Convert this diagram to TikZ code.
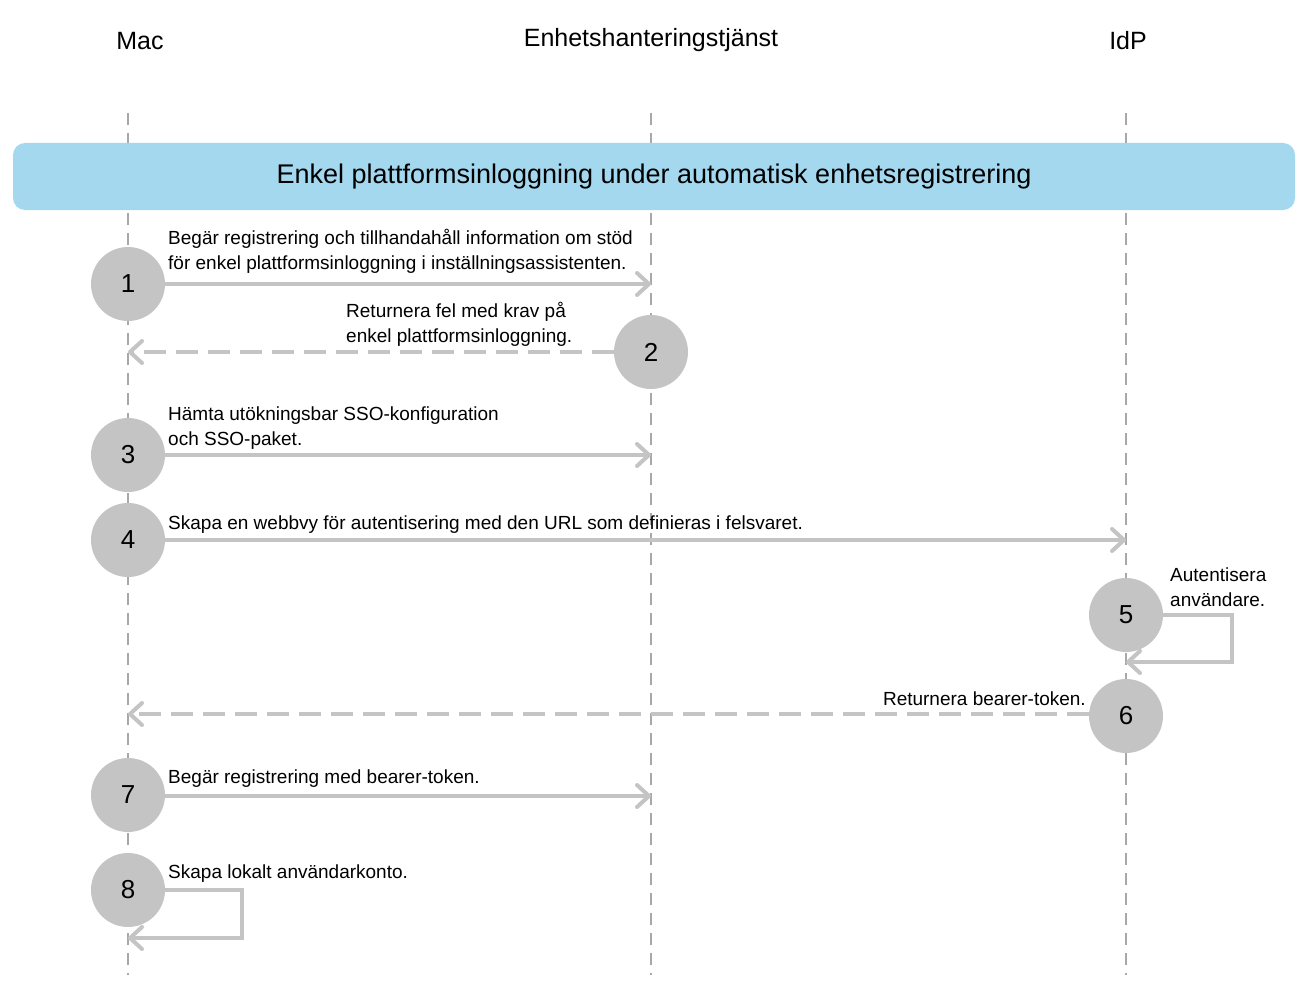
\documentclass[tikz,border=0pt]{standalone}
\usepackage{fontspec}
\setmainfont{Liberation Sans}
\usetikzlibrary{arrows.meta}
\definecolor{circ}{HTML}{C4C4C4}
\definecolor{band}{HTML}{A3D8EF}
\definecolor{life}{HTML}{A8A8A8}
\begin{document}
\begin{tikzpicture}[x=1pt,y=-1pt,
  lifeline/.style={life,line width=1.2pt,dash pattern=on 12pt off 8pt},
  num/.style={circle,fill=circ,minimum size=74pt,inner sep=0pt,font=\fontsize{26}{26}\selectfont},
  msg/.style={circ,line width=4pt,-{Straight Barb[length=12pt,width=22pt,line width=4pt,round]}},
  dmsg/.style={msg,dash pattern=on 22pt off 10pt},
  lbl/.style={font=\fontsize{19}{25}\selectfont,align=left,inner sep=0pt},
  head/.style={font=\fontsize{25}{25}\selectfont}]
\useasboundingbox (0,0) rectangle (1303,987);
\node[head] (tmac) at (140,41) {Mac};
\node[head] (tmdm) at (651,40) {Enhetshanteringstjänst};
\node[head] (tidp) at (1128,41) {IdP};
\coordinate (m0) at (128,113); \coordinate (m1) at (128,975);
\coordinate (s0) at (651,113); \coordinate (s1) at (651,975);
\coordinate (i0) at (1126,113); \coordinate (i1) at (1126,975);
\draw[lifeline] (m0)--(m1); \draw[lifeline] (s0)--(s1); \draw[lifeline] (i0)--(i1);
\node[fill=band,rounded corners=12pt,minimum width=1282pt,minimum height=67pt,inner sep=0pt,font=\fontsize{27}{27}\selectfont] (band) at (654,176.5) {Enkel plattformsinloggning under automatisk enhetsregistrering};
% 1
\node[num] (c1) at (128,284) {1};
\coordinate (e1) at (651,284);
\draw[msg] (c1)--(e1);
\node[lbl,anchor=south west] (l1) at (168,274) {Begär registrering och tillhandahåll information om stöd\\för enkel plattformsinloggning i inställningsassistenten.};
% 2
\node[num] (c2) at (651,352) {2};
\coordinate (e2) at (128,352);
\draw[dmsg] (c2)--(e2);
\node[lbl,anchor=south west] (l2) at (346,347) {Returnera fel med krav på\\enkel plattformsinloggning.};
% 3
\node[num] (c3) at (128,455) {3};
\coordinate (e3) at (651,455);
\draw[msg] (c3)--(e3);
\node[lbl,anchor=south west] (l3) at (168,450) {Hämta utökningsbar SSO-konfiguration\\och SSO-paket.};
% 4
\node[num] (c4) at (128,540) {4};
\coordinate (e4) at (1126,540);
\draw[msg] (c4)--(e4);
\node[lbl,anchor=south west] (l4) at (168,534) {Skapa en webbvy för autentisering med den URL som definieras i felsvaret.};
% 5
\node[num] (c5) at (1126,615) {5};
\coordinate (e5) at (1126,662);
\draw[msg] (c5.east) -- (1232,615) -- (1232,662) -- (e5);
\node[lbl,anchor=south west] (l5) at (1170,607) {Autentisera\\användare.};
% 6
\node[num] (c6) at (1126,716) {6};
\coordinate (e6) at (128,714);
\draw[dmsg] (c6.west|-e6)--(e6);
\node[lbl,anchor=south east] (l6) at (1086,706) {Returnera bearer-token.};
% 7
\node[num] (c7) at (128,795) {7};
\coordinate (e7) at (651,796);
\draw[msg] (c7.east|-e7)--(e7);
\node[lbl,anchor=south west] (l7) at (168,788) {Begär registrering med bearer-token.};
% 8
\node[num] (c8) at (128,890) {8};
\coordinate (e8) at (128,938);
\draw[msg] (c8.east) -- (242,890) -- (242,938) -- (e8);
\node[lbl,anchor=south west] (l8) at (168,883) {Skapa lokalt användarkonto.};
\end{tikzpicture}
\end{document}
